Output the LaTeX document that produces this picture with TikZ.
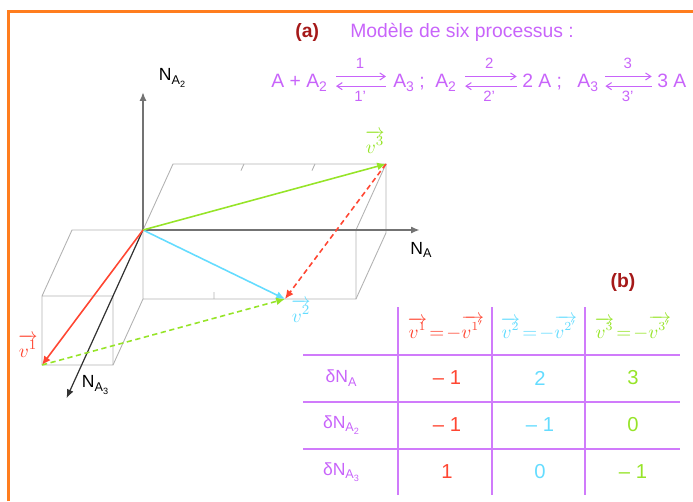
\documentclass[tikz,border=0pt]{standalone}
\usepackage{fontspec}
\setmainfont{Liberation Sans}
\usetikzlibrary{arrows.meta,positioning,calc}
\definecolor{violetA}{RGB}{200,100,250}
\definecolor{redV}{RGB}{255,70,50}
\definecolor{cyanV}{RGB}{100,220,255}
\definecolor{greenV}{RGB}{150,228,40}
\definecolor{darkR}{RGB}{165,25,25}
\definecolor{orangeF}{RGB}{255,125,30}
\newcommand{\low}[1]{\raisebox{-0.4ex}{\scalebox{0.72}{#1}}}
\tikzset{
  eq/.style={font=\fontsize{11}{13}\selectfont, text=violetA, inner sep=0pt},
  rk/.style={font=\fontsize{8.5}{10}\selectfont, text=violetA, inner sep=0pt},
  fwd/.style={-{Straight Barb[length=3pt,width=4pt]}, violetA, semithick},
  tag/.style={font=\fontsize{11}{13}\selectfont\bfseries, text=darkR, inner sep=0pt},
  edge/.style={draw=black!30, line width=0.5pt},
  axis/.style={-{Latex[length=5pt,width=4pt]}, black!55, line width=1pt},
  vec/.style={-{Latex[length=5pt,width=4.5pt]}, line width=0.9pt},
  dvec/.style={-{Latex[length=5pt,width=4.5pt]}, line width=0.9pt, dash pattern=on 3pt off 2pt},
  vlab/.style={font=\fontsize{11}{13}\selectfont, inner sep=0pt},
  alab/.style={font=\fontsize{10}{12}\selectfont, inner sep=0pt},
  cell/.style={font=\fontsize{11.5}{13}\selectfont, inner sep=0pt},
  head/.style={font=\fontsize{10.5}{12}\selectfont, inner sep=0pt},
  rowl/.style={font=\fontsize{10}{12}\selectfont, text=violetA, inner sep=0pt},
  grid/.style={draw=violetA!85, line width=1.1pt},
}
\begin{document}
\begin{tikzpicture}[x=0.02cm, y=-0.02cm]
\useasboundingbox (0,0) rectangle (693,501);
\draw[orangeF, line width=1.7pt] (8.5,501) -- (8.5,11.5) -- (693,11.5);
% (a) title and scheme
\node[tag, anchor=west] (ta) at (295,32) {(a)};
\node[eq, anchor=west] (title) at (350,32) {Modèle de six processus :};
\node[eq, anchor=base west] (eqA) at (271,87) {A + A\low{2}};
\node[eq, anchor=base west] (eqB) at (393,87) {A\low{3} ;};
\node[eq, anchor=base west] (eqC) at (435,87) {A\low{2}};
\node[eq, anchor=base west] (eqD) at (522,87) {2 A ;};
\node[eq, anchor=base west] (eqE) at (577,87) {A\low{3}};
\node[eq, anchor=base west] (eqF) at (657,87) {3 A};
\draw[fwd, shorten <=5pt, shorten >=4pt] ([yshift=6pt]eqA.base east) -- node[rk, above=4pt]{1} ([yshift=6pt]eqB.base west);
\draw[fwd, shorten <=4pt, shorten >=5pt] ([yshift=0.5pt]eqB.base west) -- node[rk, below=2.5pt]{1'} ([yshift=0.5pt]eqA.base east);
\draw[fwd, shorten <=5pt, shorten >=3pt] ([yshift=6pt]eqC.base east) -- node[rk, above=4pt]{2} ([yshift=6pt]eqD.base west);
\draw[fwd, shorten <=3pt, shorten >=5pt] ([yshift=0.5pt]eqD.base west) -- node[rk, below=2.5pt]{2'} ([yshift=0.5pt]eqC.base east);
\draw[fwd, shorten <=4pt, shorten >=3pt] ([yshift=6pt]eqE.base east) -- node[rk, above=4pt]{3} ([yshift=6pt]eqF.base west);
\draw[fwd, shorten <=3pt, shorten >=4pt] ([yshift=0.5pt]eqF.base west) -- node[rk, below=2.5pt]{3'} ([yshift=0.5pt]eqE.base east);
% 3d part
\begin{scope}[shift={(143,230)}, x={(1.42cm,0cm)}, y={(0cm,1.38cm)}, z={(-0.6cm,-1.32cm)}]
\coordinate (O) at (0,0,0);
\coordinate (P1) at (-1,-1,1);
\coordinate (P2) at (2,-1,0);
\coordinate (P3) at (3,0,-1);
\draw[edge] (0,0,0) -- (0,0,-1) -- (3,0,-1) -- (3,0,0) -- (3,-1,0) -- (0,-1,0) -- (0,0,0);
\draw[edge] (3,0,-1) -- (3,-1,-1) -- (3,-1,0);
\draw[edge] (0,0,0) -- (-1,0,0) -- (-1,0,1) -- (-1,-1,1) -- (0,-1,1) -- (0,0,1) -- (-1,0,1);
\draw[edge] (0,-1,1) -- (0,-1,0);
\draw[edge] (1,0,-1) -- (1,0,-0.9) (2,0,-1) -- (2,0,-0.9) (1,-1,0) -- (1,-0.9,0);
\coordinate (xA) at (3.9,0,0);
\coordinate (xA2) at (0,2,0);
\coordinate (xA3) at (0,0,2.55);
\end{scope}
\draw[axis] (O) -- (xA);
\draw[axis] (O) -- (xA2);
\draw[axis, black!80, line width=0.7pt] (O) -- (xA3);
\node[alab] (nA) at (421,250) {N\low{A}};
\node[alab] (nA2) at (172,78) {N\low{A\low{2}}};
\node[alab] (nA3) at (95,385) {N\low{A\low{3}}};
\draw[vec, cyanV] (O) -- (P2);
\draw[vec, greenV] (O) -- (P3);
\draw[vec, redV] (O) -- (P1);
\draw[dvec, redV] (P3) -- (P2);
\draw[dvec, greenV] (P1) -- (P2);
\node[vlab, text=greenV] (l3) at (375,142) {$\overrightarrow{v^3}$};
\node[vlab, text=cyanV] (l2) at (301,311) {$\overrightarrow{v^2}$};
\node[vlab, text=redV] (l1) at (28,346) {$\overrightarrow{v^1}$};
% (b) table
\node[tag] (tb) at (623,282) {(b)};
\draw[grid] (398,307) -- (398,495) (492,307) -- (492,495) (585,307) -- (585,495);
\draw[grid] (303,355) -- (680,355) (303,402) -- (680,402) (303,449) -- (680,449);
\node[head, text=redV] (h1) at (446,328) {$\overrightarrow{v^1}\!=\!-\overrightarrow{v^{1'}}$};
\node[head, text=cyanV] (h2) at (539,328) {$\overrightarrow{v^2}\!=\!-\overrightarrow{v^{2'}}$};
\node[head, text=greenV] (h3) at (633,328) {$\overrightarrow{v^3}\!=\!-\overrightarrow{v^{3'}}$};
\node[rowl] (r1) at (341,378) {δN\low{A}};
\node[rowl] (r2) at (341,425) {δN\low{A\low{2}}};
\node[rowl] (r3) at (341,472) {δN\low{A\low{3}}};
\node[cell, text=redV] (c11) at (447,378) {– 1};
\node[cell, text=redV] (c21) at (447,425) {– 1};
\node[cell, text=redV] (c31) at (447,472) {1};
\node[cell, text=cyanV] (c12) at (540,378) {2};
\node[cell, text=cyanV] (c22) at (540,425) {– 1};
\node[cell, text=cyanV] (c32) at (540,472) {0};
\node[cell, text=greenV] (c13) at (633,378) {3};
\node[cell, text=greenV] (c23) at (633,425) {0};
\node[cell, text=greenV] (c33) at (633,472) {– 1};
\end{tikzpicture}
\end{document}
